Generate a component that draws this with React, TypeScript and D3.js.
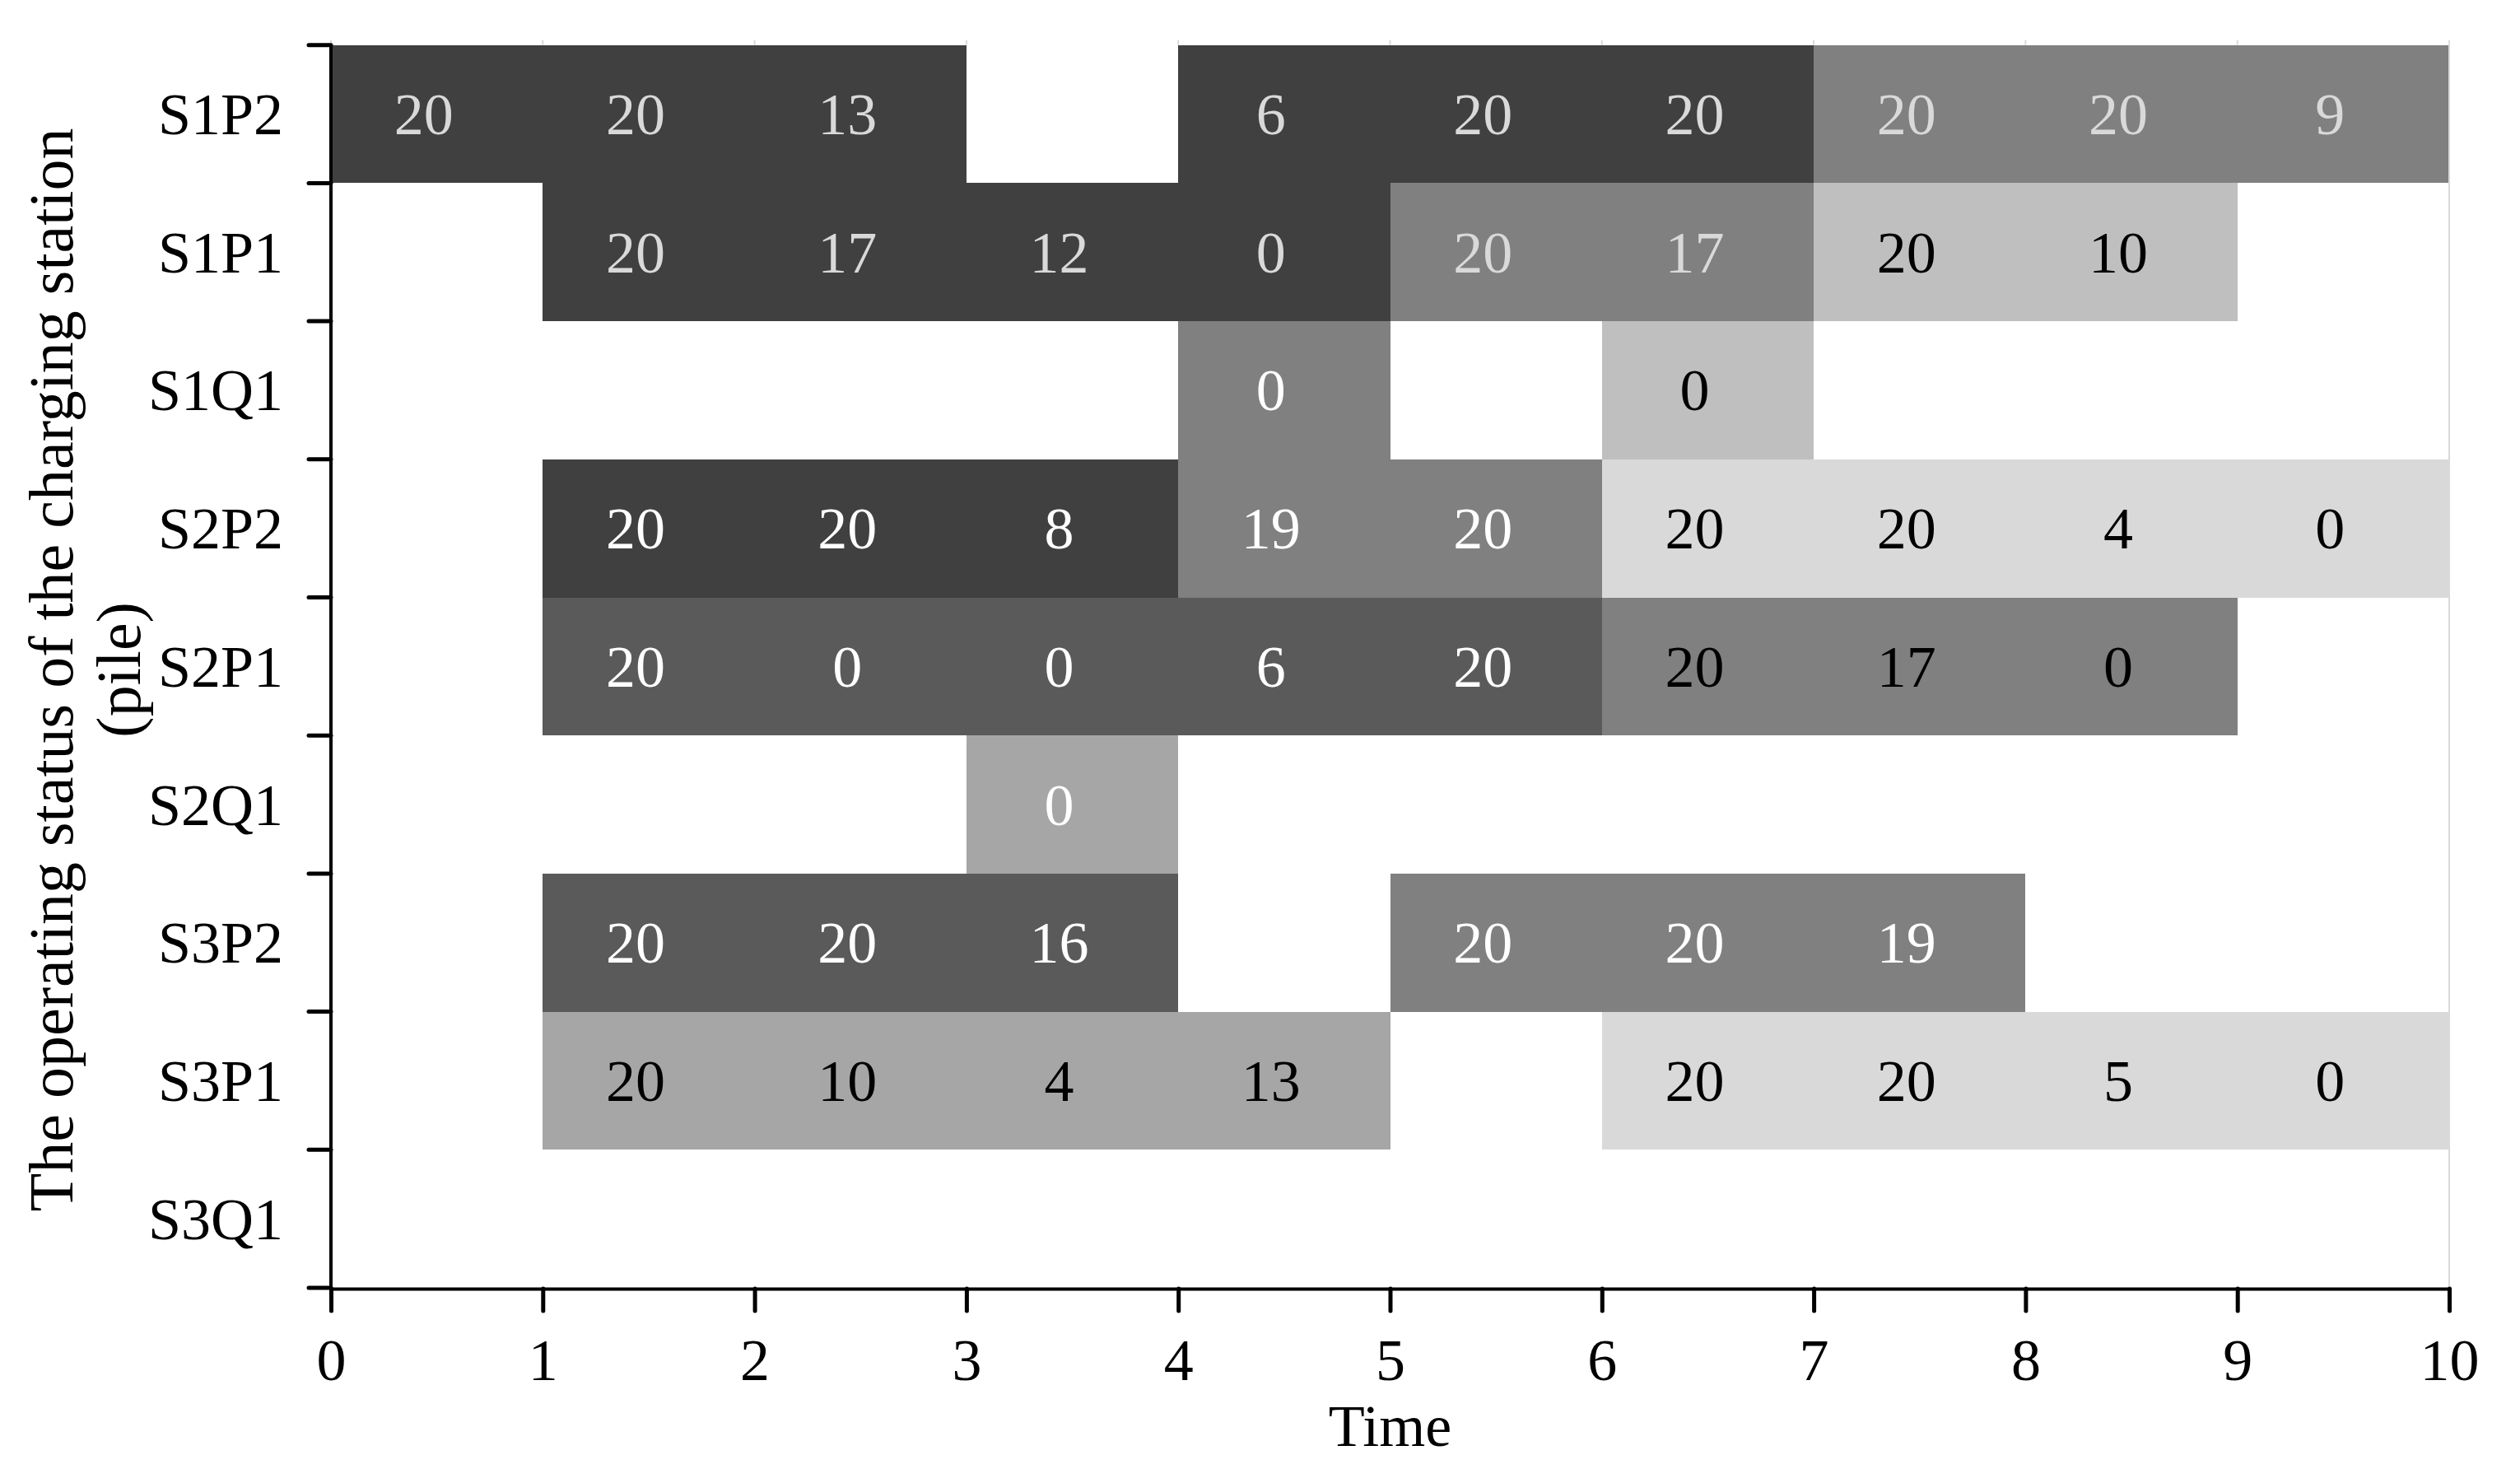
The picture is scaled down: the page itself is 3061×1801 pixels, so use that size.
import React, { useRef, useEffect } from 'react';
import * as d3 from 'd3';

// charging piles, top to bottom
const piles = ['S1P2', 'S1P1', 'S1Q1', 'S2P2', 'S2P1', 'S2Q1', 'S3P2', 'S3P1', 'S3Q1'];
const timeTicks = [0, 1, 2, 3, 4, 5, 6, 7, 8, 9, 10];

// one block = a run of consecutive time slots on one pile
const blockPile = ['S1P2', 'S1P2', 'S1P2', 'S1P1', 'S1P1', 'S1P1', 'S1Q1', 'S1Q1', 'S2P2', 'S2P2', 'S2P2', 'S2P1', 'S2P1', 'S2Q1', 'S3P2', 'S3P2', 'S3P1', 'S3P1'];
const blockStart = [0, 4, 7, 1, 5, 7, 4, 6, 1, 4, 6, 1, 6, 3, 1, 5, 1, 6];
const blockValues = [
  [20, 20, 13], [6, 20, 20], [20, 20, 9],
  [20, 17, 12, 0], [20, 17], [20, 10],
  [0], [0],
  [20, 20, 8], [19, 20], [20, 20, 4, 0],
  [20, 0, 0, 6, 20], [20, 17, 0],
  [0],
  [20, 20, 16], [20, 20, 19],
  [20, 10, 4, 13], [20, 20, 5, 0],
];
// state level of each block (1 = darkest) and tone of its numbers
const blockLevel = [1, 1, 3, 1, 3, 5, 3, 5, 1, 3, 6, 2, 3, 4, 2, 3, 4, 6];
const blockInk = ['light', 'light', 'light', 'light', 'light', 'black', 'white', 'black', 'white', 'white', 'black', 'white', 'black', 'white', 'white', 'white', 'black', 'black'];

const W = 3061;
const H = 1801;
const left = 402;
const right = 2975;
const top = 54.7;
const bottom = 1564;
const FONT = '"Liberation Serif", "Times New Roman", serif';
const FS = 72;

const levelColor = d3.scaleOrdinal<number, string>()
  .domain([1, 2, 3, 4, 5, 6])
  .range(['#404040', '#5a5a5a', '#808080', '#a6a6a6', '#bfbfbf', '#d9d9d9']);
const inkColor = d3.scaleOrdinal<string, string>()
  .domain(['light', 'white', 'black'])
  .range(['#d9d9d9', '#ffffff', '#000000']);

export default function App() {
  const svgRef = useRef<SVGSVGElement>(null);

  const x = d3.scaleLinear().domain([0, 10]).range([left, right]);
  const y = d3.scaleBand<string>().domain(piles).range([top, bottom]).paddingInner(0).paddingOuter(0);

  useEffect(() => {
    const svg = d3.select(svgRef.current);

    const xAxis = d3.axisBottom(x).tickValues(timeTicks).tickFormat(d3.format('d')).tickSize(27).tickSizeOuter(0).tickPadding(33);
    const gx = svg.select<SVGGElement>('.x-axis').attr('transform', `translate(0,${bottom + 1})`).call(xAxis);
    gx.select('.domain').attr('stroke', '#000').attr('stroke-width', 4);
    gx.selectAll('.tick line').attr('stroke', '#000').attr('stroke-width', 5).attr('stroke-linecap', 'round');
    gx.selectAll('.tick text').attr('font-family', FONT).attr('font-size', FS).attr('fill', '#000');

    const yAxis = d3.axisLeft(y).tickSize(0).tickSizeOuter(0).tickPadding(58);
    const gy = svg.select<SVGGElement>('.y-axis').attr('transform', `translate(${left},0)`).call(yAxis);
    gy.select('.domain').attr('stroke', '#000').attr('stroke-width', 4).attr('d', `M0,${top}V${bottom + 1}`);
    gy.selectAll('.tick text').attr('font-family', FONT).attr('font-size', FS).attr('fill', '#000').attr('dy', '0.34em');

    const bounds = [...piles.map((p) => y(p) as number), bottom];
    gy.selectAll('.bound')
      .data(bounds)
      .join('line')
      .attr('class', 'bound')
      .attr('x1', -27)
      .attr('x2', 0)
      .attr('y1', (d) => d)
      .attr('y2', (d) => d)
      .attr('stroke', '#000')
      .attr('stroke-width', 5)
      .attr('stroke-linecap', 'round');
  }, []);

  const cells = blockValues.flatMap((vals, i) =>
    vals.map((v, k) => ({ pile: blockPile[i], t: blockStart[i] + k, v, ink: blockInk[i] }))
  );

  return (
    <div style={{ position: 'absolute', left: 0, top: 0 }}>
      <svg ref={svgRef} width={W} height={H} style={{ display: 'block', background: '#fff' }}>
        <g className="blocks">
          {blockValues.map((vals, i) => (
            <rect
              key={i}
              x={x(blockStart[i])}
              y={y(blockPile[i])}
              width={x(blockStart[i] + vals.length) - x(blockStart[i])}
              height={y.bandwidth()}
              fill={levelColor(blockLevel[i])}
              shapeRendering="crispEdges"
            />
          ))}
        </g>
        <line x1={right} x2={right} y1={top} y2={bottom} stroke="#d9d9d9" strokeWidth={2} />
        {timeTicks.map((t) => (
          <line key={t} x1={x(t)} x2={x(t)} y1={top} y2={top - 6} stroke="#d9d9d9" strokeWidth={2} />
        ))}
        <g className="cell-labels" fontFamily={FONT} fontSize={FS} textAnchor="middle">
          {cells.map((c, i) => (
            <text key={i} x={x(c.t + 0.5) - 16} y={(y(c.pile) as number) + y.bandwidth() / 2} dy="0.34em" fill={inkColor(c.ink)}>
              {c.v}
            </text>
          ))}
        </g>
        <g className="x-axis" />
        <g className="y-axis" />
        <text x={(left + right) / 2} y={1756} textAnchor="middle" fontFamily={FONT} fontSize={FS}>
          Time
        </text>
        <text transform={`translate(88,${(top + bottom) / 2 + 4}) rotate(-90)`} textAnchor="middle" fontFamily={FONT} fontSize={76}>
          The operating status of the charging station
        </text>
        <text transform={`translate(170,${(top + bottom) / 2 + 4}) rotate(-90)`} textAnchor="middle" fontFamily={FONT} fontSize={76}>
          (pile)
        </text>
      </svg>
    </div>
  );
}
